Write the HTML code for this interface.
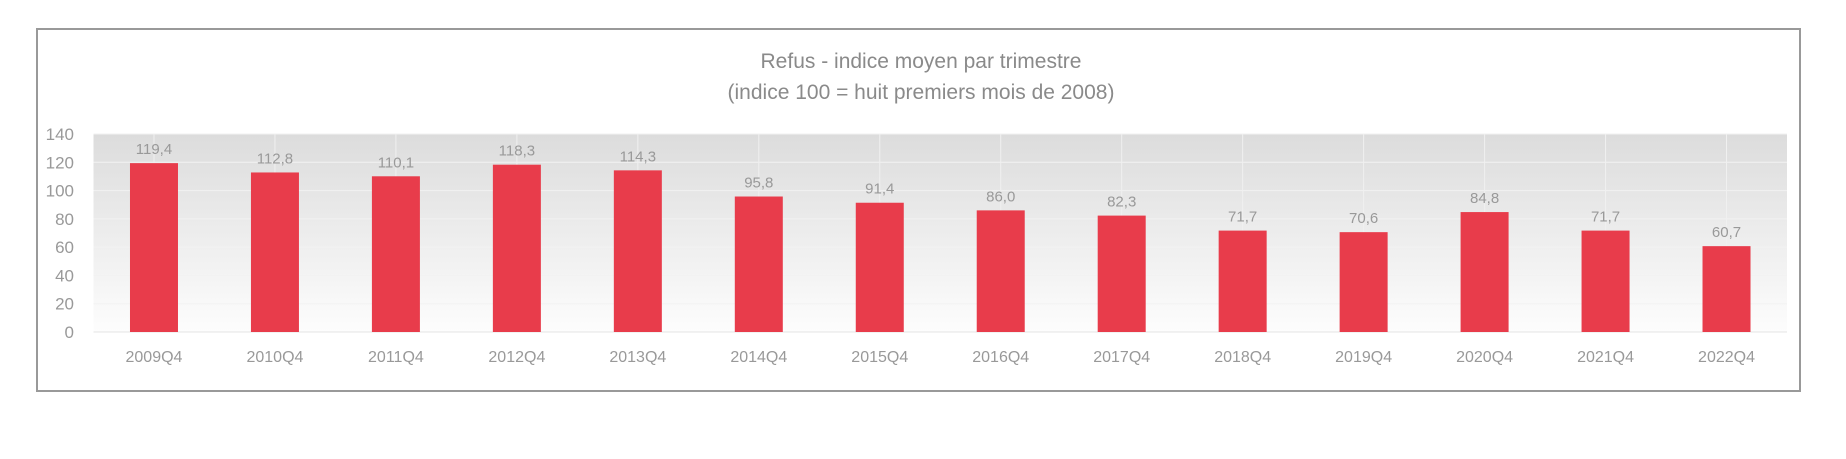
<!DOCTYPE html>
<html><head><meta charset="utf-8"><style>
body{margin:0;background:#fff;width:1846px;height:454px;overflow:hidden;font-family:"Liberation Sans",sans-serif}
</style></head><body>
<svg width="1846" height="454" xmlns="http://www.w3.org/2000/svg">
<defs><linearGradient id="bg" x1="0" y1="0" x2="0" y2="1">
<stop offset="0" stop-color="#dcdcdc"/><stop offset="1" stop-color="#fdfdfd"/></linearGradient></defs>
<rect x="37" y="29" width="1763" height="362" fill="#fff" stroke="#999" stroke-width="2"/>
<text x="921" y="68" text-anchor="middle" font-size="21" fill="#8a8a8a">Refus - indice moyen par trimestre</text>
<text x="921" y="99" text-anchor="middle" font-size="21" fill="#8a8a8a">(indice 100 = huit premiers mois de 2008)</text>
<g id="g"></g>
</svg>
<script>
const categories=["2009Q4","2010Q4","2011Q4","2012Q4","2013Q4","2014Q4","2015Q4","2016Q4","2017Q4","2018Q4","2019Q4","2020Q4","2021Q4","2022Q4"];
const values=[119.4,112.8,110.1,118.3,114.3,95.8,91.4,86.0,82.3,71.7,70.6,84.8,71.7,60.7];
const yTicks=[0,20,40,60,80,100,120,140];
const NS="http://www.w3.org/2000/svg";
const g=document.getElementById('g');
const L=93.5,R=1787,T=134,B=332,yMax=140;
const bw=(R-L)/categories.length;
const y=v=>B-(v/yMax)*(B-T);
const x=i=>L+bw*(i+0.5);
function mk(t,a,txt){const e=document.createElementNS(NS,t);for(const k in a)e.setAttribute(k,a[k]);if(txt!==undefined)e.textContent=txt;g.appendChild(e);return e;}
let e=mk('rect',{x:L,y:T,width:R-L,height:B-T,fill:'url(#bg)'});


yTicks.forEach(t=>{
 let l=mk('line',{x1:L,x2:R,y1:y(t),y2:y(t),stroke:t===0?'#e4e4e4':'#f2f2f2','stroke-width':1});
 
 
 let tx=mk('text',{x:74,y:y(t)+6,'text-anchor':'end','font-size':17,fill:'#999'},String(t));
 
 
});
categories.forEach((c,i)=>{
 let l=mk('line',{x1:x(i),x2:x(i),y1:T,y2:B,stroke:'#f0f0f0','stroke-width':1});
 
 
});
categories.forEach((c,i)=>{
 const v=values[i];
 let r=mk('rect',{x:x(i)-24,y:y(v),width:48,height:B-y(v),fill:'#e83c4b'});
 
 
 let vl=mk('text',{x:x(i),y:y(v)-9,'text-anchor':'middle','font-size':15,fill:'#999'},v.toFixed(1).replace('.',','));
 
 
 let xl=mk('text',{x:x(i),y:362,'text-anchor':'middle','font-size':16,fill:'#999'},c);
 
 
});
</script>
</body></html>
